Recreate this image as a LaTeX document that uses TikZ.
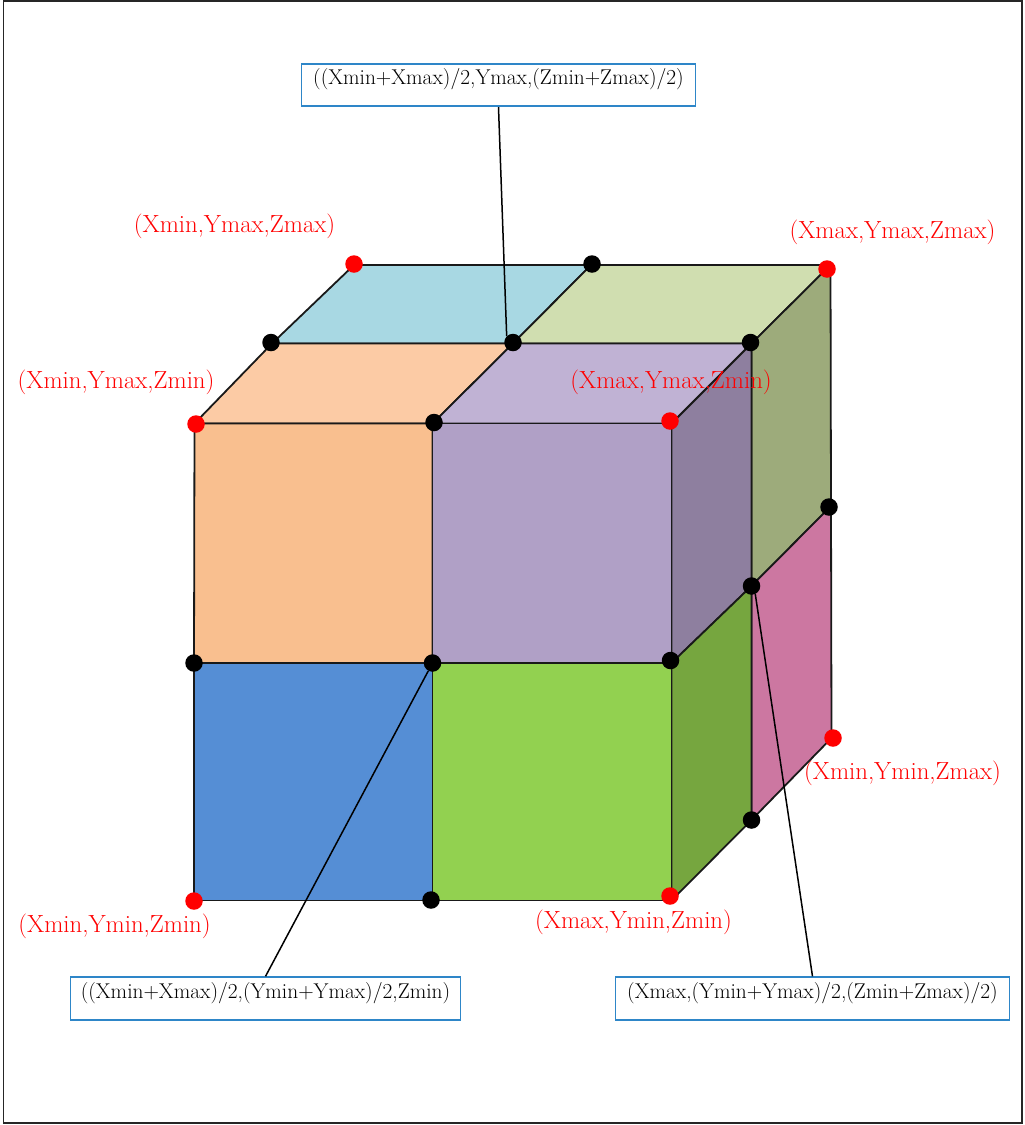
\documentclass[tikz,border=0pt]{standalone}
\definecolor{cTeal}{HTML}{A8D8E3}
\definecolor{cLime}{HTML}{D0DEB0}
\definecolor{cPeach}{HTML}{FCCBA5}
\definecolor{cLilac}{HTML}{C0B2D4}
\definecolor{cOrange}{HTML}{F9BF8F}
\definecolor{cPurple}{HTML}{B0A0C6}
\definecolor{cBlue}{HTML}{558ED5}
\definecolor{cGreen}{HTML}{92D150}
\definecolor{cDkPurple}{HTML}{8E7F9F}
\definecolor{cOlive}{HTML}{9DAB7B}
\definecolor{cDkGreen}{HTML}{76A63F}
\definecolor{cPink}{HTML}{CC77A1}
\definecolor{cBoxEdge}{HTML}{2E86C8}
\tikzset{
  face/.style={draw=black!90,line width=1.8pt,line join=round},
  reddot/.style={circle,fill=red,inner sep=0pt,minimum size=17.5pt},
  blackdot/.style={circle,fill=black,inner sep=0pt,minimum size=17.5pt},
  redlabel/.style={text=red,inner sep=0pt,font=\fontsize{24.8}{27}\selectfont},
  infobox/.style={draw=cBoxEdge,line width=1.8pt,fill=white,inner sep=0pt,
     minimum width=394pt,minimum height=42.5pt,text height=21pt,text depth=21.5pt,
     font=\fontsize{21.4}{24}\selectfont},
  link/.style={draw=black,line width=1.5pt}
}
\begin{document}
\begin{tikzpicture}[x=1pt,y=-1pt]
\useasboundingbox (0,0) rectangle (1025,1125);
\draw[black!85,line width=1.8pt] (3.5,1) rectangle (1022,1123);
% corners
\coordinate (A1) at (354,265);  \coordinate (A2) at (591,265);  \coordinate (A3) at (830.5,265);
\coordinate (B1) at (272,343.5);\coordinate (B2) at (513,343.5);\coordinate (B3) at (751.5,343.5);
\coordinate (C1) at (194.5,423.5);\coordinate (C2) at (432.5,423.5);\coordinate (C3) at (671.5,423.5);
\coordinate (D1) at (194,663);\coordinate (D2) at (432.5,663);\coordinate (D3) at (671.5,663);
\coordinate (E1) at (194,900.5);\coordinate (E2) at (432.5,900.5);\coordinate (E3) at (671.5,900.5);
\coordinate (F1) at (751.5,586);\coordinate (F2) at (831,506);
\coordinate (G1) at (751.5,820);\coordinate (G2) at (831.5,738);
% faces
\draw[face,fill=cTeal]  (A1)--(A2)--(B2)--(B1)--cycle;
\draw[face,fill=cLime]  (A2)--(A3)--(B3)--(B2)--cycle;
\draw[face,fill=cPeach] (B1)--(B2)--(C2)--(C1)--cycle;
\draw[face,fill=cLilac] (B2)--(B3)--(C3)--(C2)--cycle;
\draw[face,fill=cOlive] (B3)--(A3)--(F2)--(F1)--cycle;
\draw[face,fill=cPink]  (F1)--(F2)--(G2)--(G1)--cycle;
\draw[face,fill=cDkPurple] (C3)--(B3)--(F1)--(D3)--cycle;
\draw[face,fill=cDkGreen]  (D3)--(F1)--(G1)--(E3)--cycle;
\draw[face,fill=cOrange] (C1)--(C2)--(D2)--(D1)--cycle;
\draw[face,fill=cPurple] (C2)--(C3)--(D3)--(D2)--cycle;
\draw[face,fill=cBlue]   (D1)--(D2)--(E2)--(E1)--cycle;
\draw[face,fill=cGreen]  (D2)--(D3)--(E3)--(E2)--cycle;
% dots
\node[reddot] (r1) at (354,264) {};
\node[reddot] (r2) at (827,269) {};
\node[reddot] (r3) at (196,424) {};
\node[reddot] (r4) at (670,421) {};
\node[reddot] (r5) at (194,901) {};
\node[reddot] (r6) at (670,896) {};
\node[reddot] (r7) at (833,738) {};
\node[blackdot] (k1) at (271,342.5) {};
\node[blackdot] (k2) at (592,264) {};
\node[blackdot] (k3) at (513,342.5) {};
\node[blackdot] (k4) at (750.5,342.5) {};
\node[blackdot] (k5) at (434,422.5) {};
\node[blackdot] (k6) at (829,507) {};
\node[blackdot] (k7) at (751.5,586) {};
\node[blackdot] (k8) at (194,663) {};
\node[blackdot] (k9) at (432.5,663) {};
\node[blackdot] (k10) at (670.5,660.5) {};
\node[blackdot] (k11) at (751.5,820) {};
\node[blackdot] (k12) at (431,900) {};
% labels
\node[redlabel] (l1) at (234.5,226) {(Xmin,Ymax,Zmax)};
\node[redlabel] (l2) at (116,382) {(Xmin,Ymax,Zmin)};
\node[redlabel] (l3) at (892.5,232) {(Xmax,Ymax,Zmax)};
\node[redlabel] (l4) at (671,382) {(Xmax,Ymax,Zmin)};
\node[redlabel] (l5) at (114.5,926) {(Xmin,Ymin,Zmin)};
\node[redlabel] (l6) at (633.5,922) {(Xmax,Ymin,Zmin)};
\node[redlabel] (l7) at (902.5,773) {(Xmin,Ymin,Zmax)};
% boxes
\node[infobox] (bt) at (498.5,85) {((Xmin+Xmax)/2,Ymax,(Zmin+Zmax)/2)};
\node[infobox,minimum width=390pt] (bl) at (265.5,998.5) {((Xmin+Xmax)/2,(Ymin+Ymax)/2,Zmin)};
\node[infobox] (br) at (812.5,998.5) {(Xmax,(Ymin+Ymax)/2,(Zmin+Zmax)/2)};
% connectors
\draw[link] (bt.south) -- (k3.135);
\draw[link] (bl.north) -- (k9);
\draw[link] (br.north) -- (k7.295);
\end{tikzpicture}
\end{document}
